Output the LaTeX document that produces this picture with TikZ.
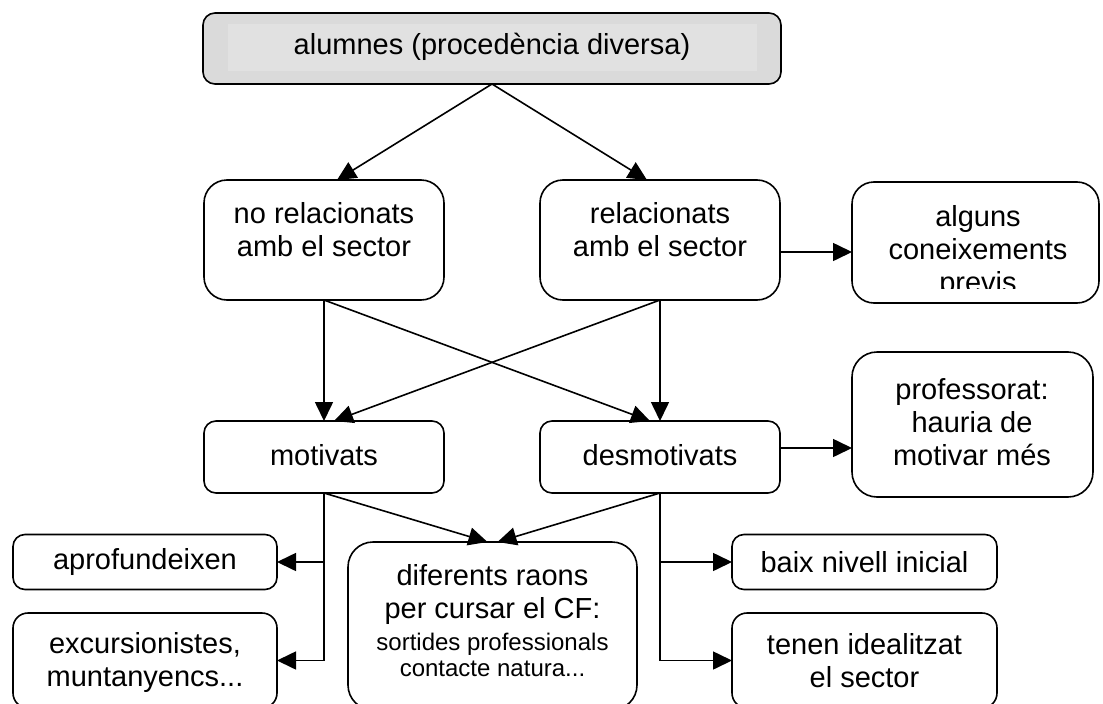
\documentclass[tikz,border=0pt]{standalone}
\usepackage{fontspec}
\setmainfont{Liberation Sans}
\usetikzlibrary{arrows.meta}
\definecolor{topgray}{HTML}{DADADA}
\definecolor{topinner}{HTML}{E1E1E1}
\begin{document}
\begin{tikzpicture}[x=1pt,y=-1pt,
  box/.style={draw=black, line width=1.6pt, outer sep=0pt, inner sep=0pt, fill=white},
  txt/.style={align=center, font=\fontsize{29}{33}\selectfont, inner sep=0pt},
  smalltxt/.style={align=center, font=\fontsize{24}{26.5}\selectfont, inner sep=0pt},
  arr/.style={line width=1.6pt, -{Triangle[length=19pt,width=18pt]}},
  ln/.style={line width=1.6pt}]
\useasboundingbox (0,0) rectangle (1103,704);
\clip (0,0) rectangle (1103,704);

% top
\node[box, fill=topgray, rounded corners=12pt, minimum width=578pt, minimum height=71pt] (top) at (492,48.5) {};
\fill[topinner] (228,24) rectangle (757,71);
\node[txt] at (492,47) {alumnes (procedència diversa)};

% row 2
\node[box, rounded corners=23pt, minimum width=240pt, minimum height=120pt] (norel) at (324,240) {};
\node[txt] at (324,230) {no relacionats\\amb el sector};
\node[box, rounded corners=23pt, minimum width=240pt, minimum height=120pt] (rel) at (660,240) {};
\node[txt] at (660,230) {relacionats\\amb el sector};
\node[box, rounded corners=22pt, minimum width=247pt, minimum height=121pt] (alg) at (975.5,242.5) {};
\begin{scope}
\clip (852,182) rectangle (1100,288);
\node[txt] at (978,252) {alguns\\coneixements\\previs};
\end{scope}

% row 3
\node[box, rounded corners=12pt, minimum width=240pt, minimum height=72pt] (mot) at (324,457) {};
\node[txt] at (324,455) {motivats};
\node[box, rounded corners=12pt, minimum width=240pt, minimum height=72pt] (desmo) at (660,457) {};
\node[txt] at (660,455) {desmotivats};
\node[box, rounded corners=25pt, minimum width=241pt, minimum height=145pt] (prof) at (972.5,424.5) {};
\node[txt] at (972,422) {professorat:\\hauria de\\motivar més};

% row 4
\node[box, rounded corners=12pt, minimum width=264pt, minimum height=55pt] (aprof) at (145,562) {};
\node[txt] at (145,562) {aprofundeixen};
\node[box, rounded corners=15pt, minimum width=264pt, minimum height=95pt] (excur) at (145,660.5) {};
\node[txt] at (145,662) {excursionistes,\\muntanyencs...};
\node[box, rounded corners=25pt, minimum width=289pt, minimum height=168pt] (dif) at (492.5,626) {};
\node[txt] at (492.5,594.5) {diferents raons\\per cursar el CF:};
\node[smalltxt] at (492.5,655) {sortides professionals\\contacte natura...};
\node[box, rounded corners=12pt, minimum width=265pt, minimum height=55pt] (baix) at (864.5,562) {};
\node[txt] at (864.5,562) {baix nivell inicial};
\node[box, rounded corners=15pt, minimum width=265pt, minimum height=95pt] (tenen) at (864.5,660.5) {};
\node[txt] at (864.5,661) {tenen idealitzat\\el sector};

% connectors
\draw[arr] (top.south) -- ([xshift=13pt]norel.north);
\draw[arr] (top.south) -- ([xshift=-13pt]rel.north);

\draw[arr] (norel.south) -- (mot.north);
\draw[arr] (norel.south) -- ([xshift=-10pt]desmo.north);
\draw[arr] (rel.south) -- (desmo.north);
\draw[arr] (rel.south) -- ([xshift=10pt]mot.north);

\coordinate (r1) at ([yshift=-12pt]rel.east);
\draw[arr] (r1) -- (r1 -| alg.west);
\coordinate (d1) at ([yshift=9pt]desmo.east);
\draw[arr] (d1) -- (d1 -| prof.west);

\draw[ln] (mot.south) -- (mot.south |- excur.east);
\draw[arr] (mot.south |- aprof.east) -- (aprof.east);
\draw[arr] (mot.south |- excur.east) -- (excur.east);
\draw[ln] (desmo.south) -- (desmo.south |- tenen.west);
\draw[arr] (desmo.south |- baix.west) -- (baix.west);
\draw[arr] (desmo.south |- tenen.west) -- (tenen.west);

\draw[arr] (mot.south) -- ([xshift=-5pt]dif.north);
\draw[arr] (desmo.south) -- ([xshift=5pt]dif.north);
\end{tikzpicture}
\end{document}
